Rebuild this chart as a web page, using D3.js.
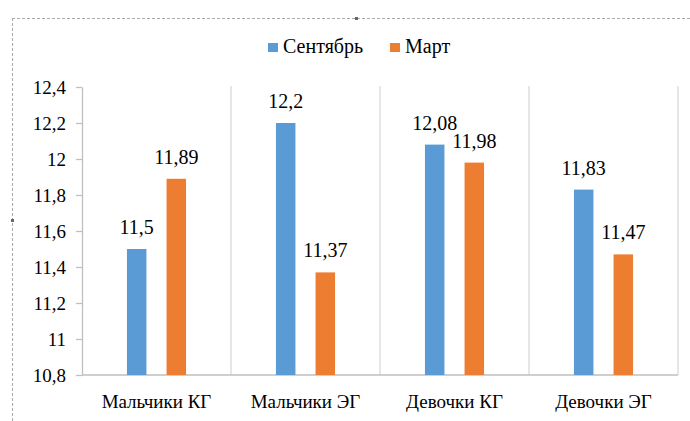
<!DOCTYPE html>
<html><head><meta charset="utf-8">
<script src="https://cdn.jsdelivr.net/npm/d3@7"></script>
<style>body{margin:0;background:#fff}svg{display:block}</style>
</head><body><svg id="c" width="690" height="421"></svg>
<script>
const categories = ["Мальчики КГ","Мальчики ЭГ","Девочки КГ","Девочки ЭГ"];
const seriesNames = ["Сентябрь","Март"];
const september = [11.5, 12.2, 12.08, 11.83];
const march = [11.89, 11.37, 11.98, 11.47];
const yTicks = [10.8, 11, 11.2, 11.4, 11.6, 11.8, 12, 12.2, 12.4];
const colors = ["#5b9bd5", "#ed7d31"];

const svg = d3.select("#c");
const m = {l: 82, r: 678, t: 87, b: 375};
const fmt = v => String(+v.toFixed(2)).replace(".", ",");
const fontStyle = fs => `font-family:'Liberation Serif','Times New Roman',serif !important;font-size:${fs}px !important;fill:#000`;

function label(txt, x, yBase, fs, anchor) {
  svg.append("text").attr("x", x).attr("y", yBase).attr("text-anchor", anchor)
    .attr("font-family", "Liberation Serif").attr("font-size", fs)
    .attr("style", fontStyle(fs)).text(txt);
}

// dashed frame
svg.append("line").attr("x1",12).attr("x2",690).attr("y1",18.5).attr("y2",18.5).attr("stroke","#aaa").attr("stroke-dasharray","3,2");
svg.append("line").attr("x1",12.5).attr("x2",12.5).attr("y1",18).attr("y2",421).attr("stroke","#aaa").attr("stroke-dasharray","3,2");
svg.append("rect").attr("x",355).attr("y",17).attr("width",3).attr("height",3).attr("fill","#666");
svg.append("rect").attr("x",11).attr("y",219).attr("width",3).attr("height",3).attr("fill","#666");

const x = d3.scaleBand().domain(categories).range([m.l, m.r]);
const y = d3.scaleLinear().domain([10.8, 12.4]).range([m.b, m.t]);
const xs = d3.scaleBand().domain(seriesNames).range([0, x.bandwidth()]).paddingInner(0.508).paddingOuter(1.135);

// vertical gridlines at category boundaries
const bounds = categories.map(c => x(c) + x.bandwidth());
svg.append("g").selectAll("line").data(bounds).join("line")
  .attr("x1", d=>d).attr("x2", d=>d).attr("y1", m.t-1).attr("y2", m.b)
  .attr("stroke", "#d9d9d9").attr("stroke-width", 1.3);

// y axis
const ya = svg.append("g").attr("transform", `translate(${m.l},0)`)
  .call(d3.axisLeft(y).tickValues(yTicks).tickSize(6).tickSizeOuter(0).tickFormat(fmt));
ya.attr("font-family", null).attr("font-size", null);
ya.select(".domain").attr("stroke", "#bfbfbf").attr("stroke-width", 1.3);
ya.selectAll(".tick line").attr("stroke", "#bfbfbf").attr("stroke-width", 1.3);
ya.selectAll(".tick text").attr("x", -16).attr("dy", "0.34em").attr("fill", "#000")
  .attr("font-family", "Liberation Serif").attr("font-size", 19).attr("style", fontStyle(19));

// x axis line
svg.append("line").attr("x1", m.l).attr("x2", m.r).attr("y1", m.b).attr("y2", m.b).attr("stroke", "#bfbfbf").attr("stroke-width", 1.3);

// bars
const data = [september, march];
data.forEach((vals, si) => {
  svg.append("g").selectAll("rect").data(vals).join("rect")
    .attr("x", (d,i) => x(categories[i]) + xs(seriesNames[si]))
    .attr("width", xs.bandwidth())
    .attr("y", d => y(d)).attr("height", d => m.b - y(d))
    .attr("fill", colors[si]);
  vals.forEach((d, i) => label(fmt(d), x(categories[i]) + xs(seriesNames[si]) + xs.bandwidth()/2, y(d) - 15, 20, "middle"));
});

// category labels
categories.forEach(c => label(c, x(c) + x.bandwidth()/2, 408, 19, "middle"));

// legend
const leg = [{n: seriesNames[0], x: 268, c: colors[0]}, {n: seriesNames[1], x: 390, c: colors[1]}];
leg.forEach(l => {
  svg.append("rect").attr("x", l.x).attr("y", 43).attr("width", 10).attr("height", 9).attr("fill", l.c);
  label(l.n, l.x + 15, 52.5, 20, "start");
});
</script></body></html>
